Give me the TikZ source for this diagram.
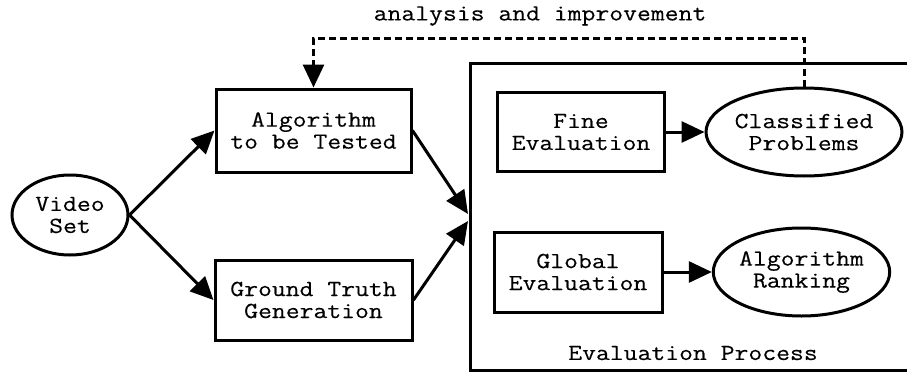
\documentclass[tikz,border=0pt]{standalone}
\usepackage{fontspec}
\setmainfont{Latin Modern Mono}[FakeStretch=1.17,FakeBold=0.3]
\usetikzlibrary{shapes.geometric,arrows.meta}
\tikzset{
  every node/.style={font=\fontsize{23}{22}\selectfont, align=center, inner sep=0pt},
  stepbox/.style={draw, rectangle, line width=3pt},
  oval/.style={draw, ellipse, line width=3pt},
  flow/.style={line width=3pt, -{Triangle[length=23pt,width=21pt]}},
  feedback/.style={line width=3pt, dash pattern=on 7pt off 4pt, -{Triangle[length=23pt,width=21pt]}},
}
\begin{document}
\begin{tikzpicture}[x=1pt,y=-1pt]
\useasboundingbox (0,0) rectangle (907,372);
% evaluation process frame
\draw[line width=3pt] (470,63) rectangle (912,370);
\node (ep) at (693,353) {Evaluation Process};
\coordinate (in1) at (468,214);
\coordinate (in2) at (468,221);
% nodes
\node[oval, minimum width=116pt, minimum height=80pt] (vs) at (70,215) {Video\\Set};
\node[stepbox, minimum width=195pt, minimum height=83pt] (alg) at (313.5,130.5) {Algorithm\\to be Tested};
\node[stepbox, minimum width=197pt, minimum height=80pt] (gt) at (313.5,300) {Ground Truth\\Generation};
\node[stepbox, minimum width=167pt, minimum height=79pt] (fine) at (581,132) {Fine\\Evaluation};
\node[stepbox, minimum width=168pt, minimum height=80pt] (glob) at (578,272) {Global\\Evaluation};
\node[oval, minimum width=165pt, minimum height=88pt] (cp) at (804,132) {Classified\\Problems};
\node[oval, minimum width=167pt, minimum height=88pt] (ar) at (801.5,272) {Algorithm\\Ranking};
% connectors
\draw[flow] (vs.east) -- (alg.west);
\draw[flow] (vs.east) -- (gt.west);
\draw[flow] (alg.east) -- (in1);
\draw[flow] (gt.east) -- (in2);
\draw[flow] (fine.east) -- (cp.west);
\draw[flow] (glob.east) -- (ar.west);
% feedback loop
\coordinate (loop) at (560,38);
\draw[feedback] (cp.north) |- (loop) -| (alg.north);
\node (lbl) at (540,16) {analysis and improvement};
\end{tikzpicture}
\end{document}
